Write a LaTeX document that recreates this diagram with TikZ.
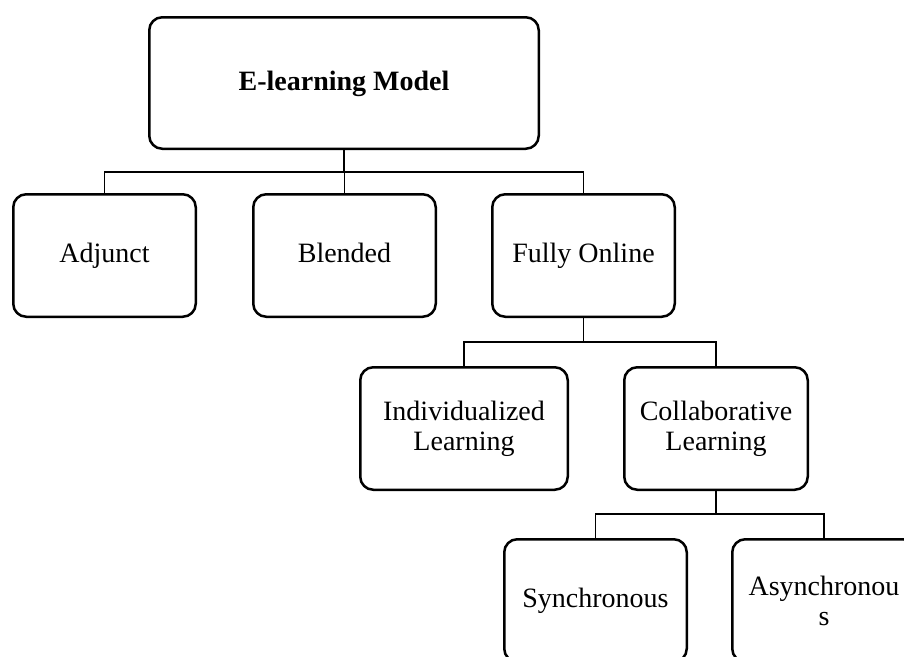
\documentclass[tikz,border=0pt]{standalone}
\usepackage{fontspec}
\setmainfont{Liberation Serif}
\begin{document}
\begin{tikzpicture}[x=1pt,y=-1pt,
  box/.style={draw=black, line width=2.5pt, rounded corners=13pt, rectangle,
    align=center, inner sep=0pt, font=\fontsize{28}{30}\selectfont},
  oneline/.style={text height=19.5pt, text depth=5.5pt},
  conn/.style={draw=black, line width=1.3pt}]
\path[use as bounding box, clip] (0,0) rectangle (904,656);
\node[box, oneline, minimum width=389.5pt, minimum height=131.5pt] (top) at (344,83) {\textbf{E-learning Model}};
\node[box, oneline, minimum width=182.5pt, minimum height=122.5pt] (adj) at (104.5,255.5) {Adjunct};
\node[box, oneline, minimum width=182.5pt, minimum height=122.5pt] (bl) at (344.5,255.5) {Blended};
\node[box, oneline, minimum width=182.5pt, minimum height=122.5pt] (fo) at (583.5,255.5) {Fully Online};
\node[box, minimum width=207.5pt, minimum height=122.5pt] (ind) at (464,428.5) {Individualized\\Learning};
\node[box, minimum width=183.5pt, minimum height=122.5pt] (col) at (716,428.5) {Collaborative\\Learning};
\node[box, oneline, minimum width=182.5pt, minimum height=122.5pt] (syn) at (595.5,600.5) {Synchronous};
\node[box, minimum width=183.5pt, minimum height=122.5pt] (asy) at (824,600.5) {Asynchronou\\s};
\coordinate (j1) at (344,172);
\coordinate (j2) at (583.5,342);
\coordinate (j3) at (716,514);
\draw[conn] (top.south) -- (j1);
\draw[conn] (adj.north) |- (j1) -| (fo.north);
\draw[conn] (bl.north) -- (bl.north |- j1);
\draw[conn] (fo.south) -- (j2);
\draw[conn] (ind.north) |- (j2) -| (col.north);
\draw[conn] (col.south) -- (j3);
\draw[conn] (syn.north) |- (j3) -| (asy.north);
\end{tikzpicture}
\end{document}
